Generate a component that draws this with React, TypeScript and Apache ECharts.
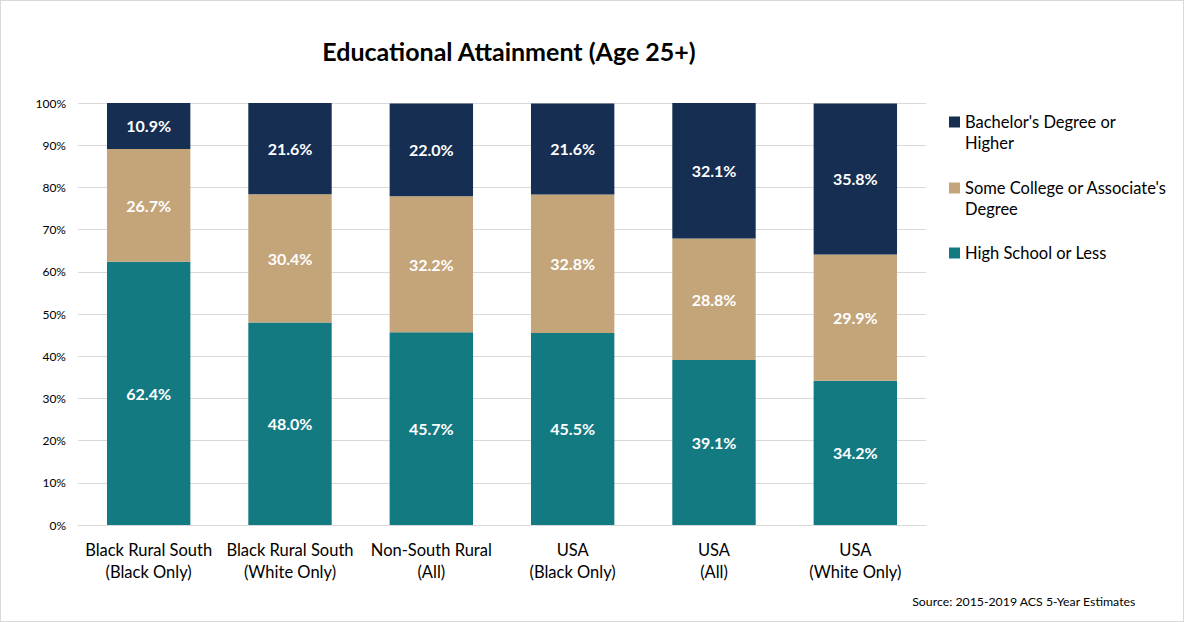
import React, { useEffect, useRef } from "react";
import * as echarts from "echarts";

const categories = [
  "Black Rural South\n(Black Only)",
  "Black Rural South\n(White Only)",
  "Non-South Rural\n(All)",
  "USA\n(Black Only)",
  "USA\n(All)",
  "USA\n(White Only)",
];
const highSchool = [62.4, 48.0, 45.7, 45.5, 39.1, 34.2];
const someCollege = [26.7, 30.4, 32.2, 32.8, 28.8, 29.9];
const bachelors = [10.9, 21.6, 22.0, 21.6, 32.1, 35.8];
const yTicks = [0, 10, 20, 30, 40, 50, 60, 70, 80, 90, 100];

const seriesNames = {
  ba: "Bachelor's Degree or Higher",
  sc: "Some College or Associate's Degree",
  hs: "High School or Less",
};
const legendLabels: Record<string, string> = {
  [seriesNames.ba]: "Bachelor's Degree or\nHigher",
  [seriesNames.sc]: "Some College or Associate's\nDegree",
  [seriesNames.hs]: "High School or Less",
};

const FONT = "Lato, 'Open Sans', sans-serif";
// square at the top of a taller icon box so it sits on the first text line
const TOP_SQUARE = "path://M0 0L11 0L11 11L0 11Z M0 32L0.01 32Z";

export default function App() {
  const ref = useRef<HTMLDivElement>(null);
  useEffect(() => {
    const chart = echarts.init(ref.current!, null, { renderer: "svg" });
    const label = {
      show: true,
      position: "inside",
      color: "#ffffff",
      fontWeight: "bold",
      fontSize: 16,
      fontFamily: FONT,
      formatter: (p: any) => p.value.toFixed(1) + "%",
    };
    const mk = (name: string, data: number[], color: string) => ({
      name,
      type: "bar",
      stack: "total",
      data,
      barWidth: "59%",
      itemStyle: { color },
      label,
    });
    const legendText = { fontSize: 16.5, color: "#000", fontFamily: FONT, lineHeight: 21 };
    chart.setOption({
      animation: false,
      backgroundColor: "#ffffff",
      textStyle: { fontFamily: FONT },
      title: {
        text: "Educational Attainment (Age 25+)",
        left: 503,
        textAlign: "center",
        top: 32,
        textStyle: { fontSize: 25, fontWeight: "bold", color: "#000", fontFamily: FONT },
      },
      graphic: [
        {
          type: "text",
          right: 47,
          top: 594,
          style: {
            text: "Source: 2015-2019 ACS 5-Year Estimates",
            fontSize: 12.3,
            fill: "#000",
            fontFamily: FONT,
          },
        },
      ],
      legend: [
        {
          orient: "vertical",
          left: 943,
          top: 105.5,
          itemWidth: 11,
          itemHeight: 32,
          itemGap: 24,
          icon: TOP_SQUARE,
          data: [seriesNames.ba, seriesNames.sc],
          formatter: (n: string) => legendLabels[n] || n,
          textStyle: legendText,
        },
        {
          orient: "vertical",
          left: 943,
          top: 236.5,
          itemWidth: 11,
          itemHeight: 11,
          icon: "rect",
          data: [seriesNames.hs],
          formatter: (n: string) => legendLabels[n] || n,
          textStyle: legendText,
        },
      ],
      grid: { left: 77, right: 257, top: 102, bottom: 96 },
      xAxis: {
        type: "category",
        data: categories,
        axisTick: { show: false },
        axisLine: { lineStyle: { color: "#d9d9d9" } },
        axisLabel: {
          color: "#000",
          fontSize: 16.5,
          lineHeight: 22,
          margin: 14,
          fontFamily: FONT,
          interval: 0,
        },
      },
      yAxis: {
        type: "value",
        min: 0,
        max: 100,
        interval: 10,
        axisLine: { show: false },
        axisTick: { show: false },
        splitLine: { lineStyle: { color: "#d9d9d9" } },
        axisLabel: {
          color: "#000",
          fontSize: 12,
          margin: 12,
          fontFamily: FONT,
          formatter: (v: number) => (yTicks.includes(v) ? v + "%" : ""),
        },
      },
      series: [
        mk(seriesNames.hs, highSchool, "#147a82"),
        mk(seriesNames.sc, someCollege, "#c4a57a"),
        mk(seriesNames.ba, bachelors, "#152e52"),
      ],
    });
    return () => chart.dispose();
  }, []);
  return (
    <div
      ref={ref}
      style={{
        position: "fixed",
        left: 0,
        top: 0,
        width: 1184,
        height: 622,
        boxSizing: "border-box",
        border: "1px solid #d9d9d9",
      }}
    />
  );
}
